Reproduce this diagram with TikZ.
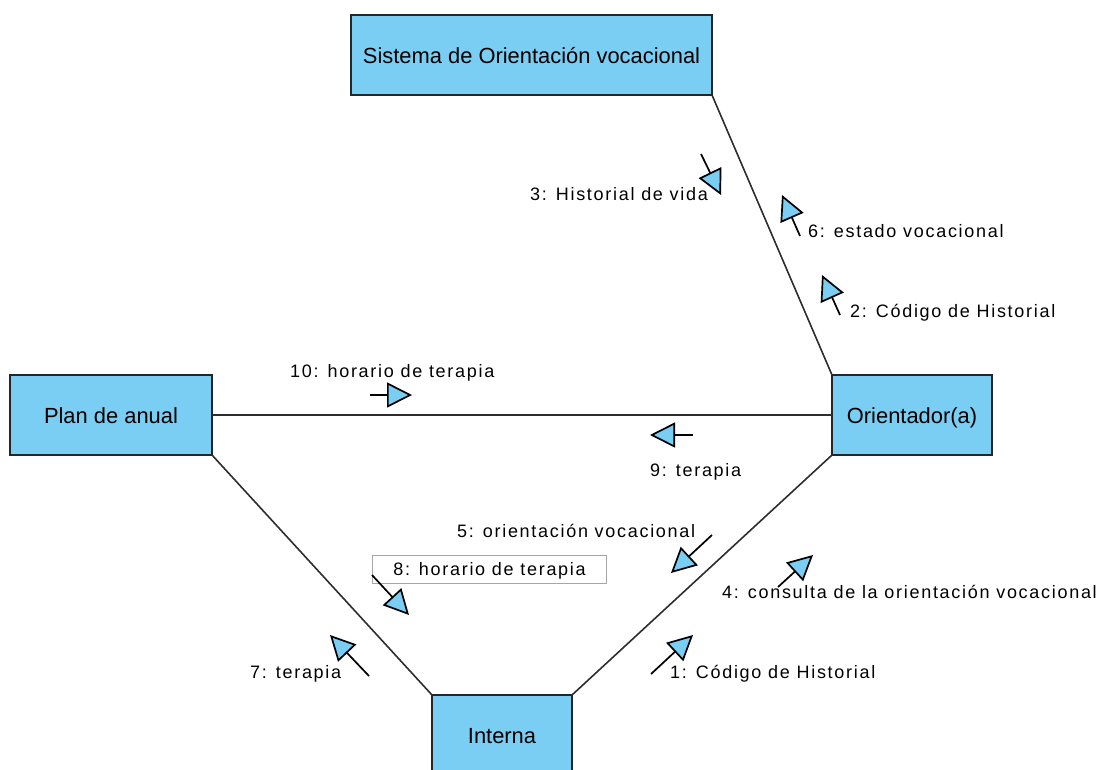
\documentclass[tikz,border=0pt]{standalone}
\usepackage{fontspec}
\setmainfont{Liberation Sans}
\newfontfamily\msgfont[LetterSpace=9.5]{Liberation Sans}
\usetikzlibrary{arrows.meta}

\definecolor{boxblue}{RGB}{122,206,244}
\definecolor{linkgray}{RGB}{45,45,45}

\tikzset{
  classbox/.style={draw=black!85, line width=1.9pt, fill=boxblue,
    minimum height=80pt, inner sep=0pt, outer sep=0pt,
    font=\fontsize{21.9}{24}\selectfont, text height=16pt, text depth=0pt},
  link/.style={draw=linkgray, line width=1.6pt},
  msg/.style={line width=1.7pt, -{Triangle[length=25pt,width=25pt,fill=boxblue]}},
  msglabel/.style={font=\msgfont\fontsize{18}{21}\selectfont,
    anchor=base west, inner sep=0pt},
  notebox/.style={draw=black!35, line width=1pt, inner sep=0pt,
    font=\msgfont\fontsize{18}{21}\selectfont,
    text height=13pt, text depth=0pt, minimum height=28pt}
}

\begin{document}
\begin{tikzpicture}[x=1pt,y=-1pt]
        \useasboundingbox (0,0) rectangle (1110,769);
        \clip (0,0) rectangle (1110,769);

        % objects
        \node[classbox, minimum width=361pt] (sistema) at (531.5,55) {Sistema de Orientación vocacional};
        \node[classbox, minimum width=202pt] (plan) at (111,415) {Plan de anual};
        \node[classbox, minimum width=160pt] (orient) at (912,415) {Orientador(a)};
        \node[classbox, minimum width=140pt] (interna) at (502,735) {Interna};

        % links
        \draw[link] (sistema.south east) -- (orient.north west);
        \draw[link] (plan.east) -- (orient.west);
        \draw[link] (plan.south east) -- (interna.north west);
        \draw[link] (orient.south west) -- (interna.north east);

        % messages
        \node[notebox, minimum width=234pt, anchor=west] (note8) at (372,569) {8: horario de terapia};

        \foreach \id/\sx/\sy/\ex/\ey in {1/651/674/693/635, 2/840/315/822/275,
            3/701/154/721/195, 4/778/587/813/555, 5/712/535/671/573,
            6/800/236/782/195, 7/369/676/330/635, 8/372/575/409/615,
            9/693/435/650/435, 10/370/395/412/395} {
          \coordinate (m\id s) at (\sx,\sy);
          \coordinate (m\id e) at (\ex,\ey);
          \draw[msg] (m\id s) -- (m\id e);
        }

        \node[msglabel] (lbl1) at (670,678) {1: Código de Historial};
        \node[msglabel] (lbl2) at (850,317) {2: Código de Historial};
        \node[msglabel] (lbl3) at (530,200) {3: Historial de vida};
        \node[msglabel] (lbl4) at (722,598) {4: consulta de la orientación vocacional};
        \node[msglabel] (lbl5) at (457,537) {5: orientación vocacional};
        \node[msglabel] (lbl6) at (808,237) {6: estado vocacional};
        \node[msglabel] (lbl7) at (250,678) {7: terapia};
        \node[msglabel] (lbl9) at (650,476) {9: terapia};
        \node[msglabel] (lbl10) at (290,377) {10: horario de terapia};
\end{tikzpicture}
\end{document}
